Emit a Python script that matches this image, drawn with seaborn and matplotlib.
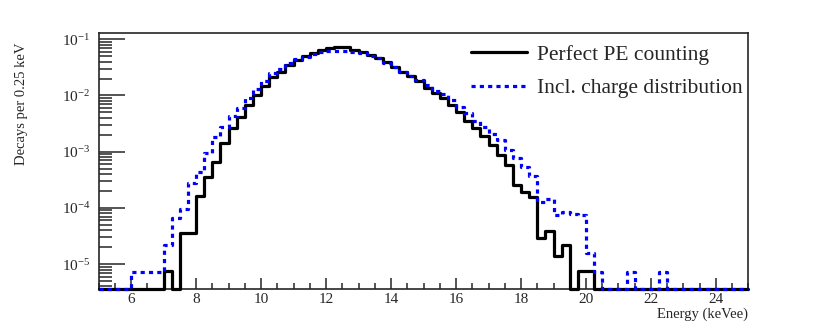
import numpy as np
import pandas as pd
import seaborn as sns
import matplotlib
matplotlib.use("Agg")
import matplotlib.pyplot as plt
from matplotlib.ticker import LogLocator, LogFormatterMathtext, MultipleLocator

# histogram binning (keVee), 0.25 keV bins from 5 to 25
energy_edges = np.linspace(5.0, 25.0, 81)

# Perfect PE counting, decays per 0.25 keV (0 = empty bin)
perfect_pe = [
    0, 0, 0, 0, 0, 0, 0, 0,                                   # 5.0 - 6.75
    7.6e-6, 0, 3.6e-5, 3.6e-5,                                # 7.0 - 7.75
    1.6e-4, 3.6e-4, 6.6e-4, 1.41e-3,                          # 8.0 - 8.75
    2.6e-3, 4.2e-3, 6.8e-3, 1.02e-2,                          # 9.0 - 9.75
    1.48e-2, 2.09e-2, 2.63e-2, 3.47e-2,                       # 10.0 - 10.75
    4.27e-2, 5.0e-2, 5.75e-2, 6.46e-2,                        # 11.0 - 11.75
    6.92e-2, 7.24e-2, 7.24e-2, 6.46e-2,                       # 12.0 - 12.75
    5.89e-2, 5.25e-2, 4.57e-2, 3.98e-2,                       # 13.0 - 13.75
    3.24e-2, 2.63e-2, 2.24e-2, 1.78e-2,                       # 14.0 - 14.75
    1.35e-2, 1.10e-2, 8.9e-3, 6.8e-3,                         # 15.0 - 15.75
    5.0e-3, 3.5e-3, 2.6e-3, 1.9e-3,                           # 16.0 - 16.75
    1.3e-3, 8.7e-4, 5.8e-4, 2.6e-4,                           # 17.0 - 17.75
    1.95e-4, 1.55e-4, 2.9e-5, 3.8e-5,                         # 18.0 - 18.75
    1.4e-5, 2.2e-5, 0, 7.6e-6,                                # 19.0 - 19.75
    7.6e-6, 0, 0, 0,                                          # 20.0 - 20.75
    0, 0, 0, 0, 0, 0, 0, 0, 0, 0, 0, 0, 0, 0, 0, 0,           # 21.0 - 24.75
]

# Including charge distribution
incl_charge = [
    0, 0, 0, 0, 7.1e-6, 7.1e-6, 7.1e-6, 7.1e-6,               # 5.0 - 6.75
    2.2e-5, 6.5e-5, 9.5e-5, 2.8e-4,                           # 7.0 - 7.75
    4.4e-4, 9.3e-4, 1.8e-3, 2.8e-3,                           # 8.0 - 8.75
    4.3e-3, 6.0e-3, 8.9e-3, 1.32e-2,                          # 9.0 - 9.75
    1.82e-2, 2.51e-2, 3.02e-2, 3.72e-2,                       # 10.0 - 10.75
    4.37e-2, 4.9e-2, 5.5e-2, 5.89e-2,                         # 11.0 - 11.75
    6.17e-2, 6.3e-2, 6.3e-2, 6.03e-2,                         # 12.0 - 12.75
    5.62e-2, 5.13e-2, 4.57e-2, 3.8e-2,                        # 13.0 - 13.75
    3.16e-2, 2.63e-2, 2.19e-2, 1.86e-2,                       # 14.0 - 14.75
    1.51e-2, 1.2e-2, 1.05e-2, 8.3e-3,                         # 15.0 - 15.75
    6.3e-3, 4.8e-3, 3.5e-3, 2.8e-3,                           # 16.0 - 16.75
    2.1e-3, 1.6e-3, 1.07e-3, 7.6e-4,                          # 17.0 - 17.75
    5.4e-4, 3.7e-4, 1.26e-4, 1.41e-4,                         # 18.0 - 18.75
    7.6e-5, 8.3e-5, 7.9e-5, 7.6e-5,                           # 19.0 - 19.75
    1.6e-5, 7.2e-6, 0, 0,                                     # 20.0 - 20.75
    0, 7.2e-6, 0, 0,                                          # 21.0 - 21.75
    0, 7.2e-6, 0, 0,                                          # 22.0 - 22.75
    0, 0, 0, 0, 0, 0, 0, 0,                                   # 23.0 - 24.75
]

series_labels = ["Perfect PE counting", "Incl. charge distribution"]

y_min, y_max = 3.6e-6, 0.131

sns.set_theme(style="ticks")
plt.rcParams["font.family"] = ["Liberation Serif", "DejaVu Serif"]
plt.rcParams["mathtext.fontset"] = "stix"


def step_frame(values):
    v = np.asarray(values, dtype=float)
    v = np.where(v > 0, v, y_min)  # empty bins drawn on the frame bottom
    return pd.DataFrame({"energy": energy_edges, "rate": np.append(v, v[-1])})


fig = plt.figure(figsize=(8.3, 3.25), dpi=100)
ax = fig.add_axes([0.1187, 0.1108, 0.7831, 0.7886])

sns.lineplot(data=step_frame(perfect_pe), x="energy", y="rate", ax=ax,
             drawstyle="steps-post", estimator=None, sort=False,
             color="black", lw=2.3, label=series_labels[0],
             clip_on=False, zorder=3)
sns.lineplot(data=step_frame(incl_charge), x="energy", y="rate", ax=ax,
             drawstyle="steps-post", estimator=None, sort=False,
             color="#0000ff", lw=2.3, ls=(0, (1.3, 1.3)), label=series_labels[1],
             clip_on=False, zorder=4)

ax.set_yscale("log")
ax.set_xlim(5, 25)
ax.set_ylim(y_min, y_max)

ax.xaxis.set_major_locator(MultipleLocator(2))
ax.xaxis.set_minor_locator(MultipleLocator(0.5))
ax.yaxis.set_major_locator(LogLocator(base=10, numticks=10))
ax.yaxis.set_minor_locator(LogLocator(base=10, subs=np.arange(2, 10), numticks=20))
ax.yaxis.set_major_formatter(LogFormatterMathtext())

ax.tick_params(axis="x", which="major", direction="in", length=8, width=1.1,
               labelsize=11, pad=3)
ax.tick_params(axis="x", which="minor", direction="in", length=4, width=1.1)
ax.tick_params(axis="y", which="major", direction="in", length=19, width=1.1,
               labelsize=11, pad=6)
ax.tick_params(axis="y", which="minor", direction="in", length=9, width=1.1)
for s in ax.spines.values():
    s.set_linewidth(1.2)

ax.set_xlabel("Energy (keVee)", fontsize=10.5, loc="right", labelpad=1)
ax.set_ylabel("Decays per 0.25 keV", fontsize=10.5, loc="top", labelpad=24)
ax.yaxis.label.set_y(0.96)

ax.legend(loc="upper right", bbox_to_anchor=(0.918, 0.922),
          bbox_transform=fig.transFigure, frameon=False, fontsize=15.5,
          handlelength=2.6, handletextpad=0.45, labelspacing=0.62)

fig.savefig("out.png", dpi=100, facecolor="white")
